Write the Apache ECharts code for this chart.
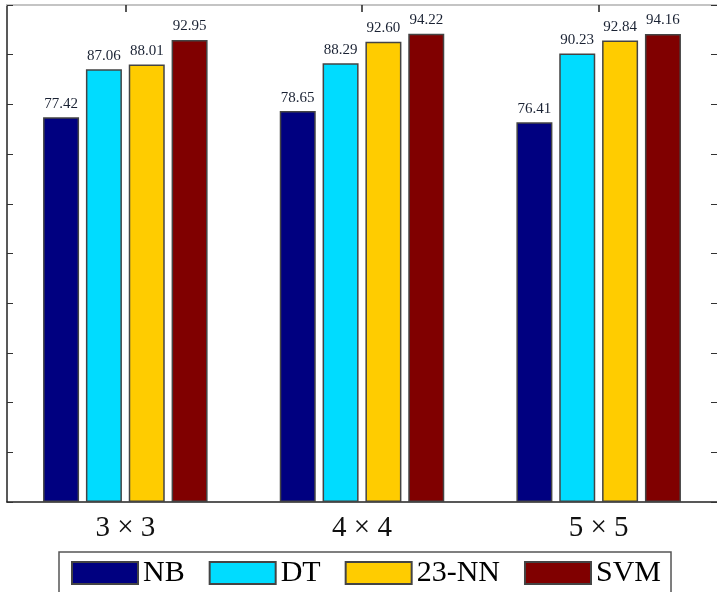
<!DOCTYPE html>
<html lang="en">
<head>
<meta charset="UTF-8">
<title>bars</title>
<script src="https://cdn.jsdelivr.net/npm/echarts@6/dist/echarts.min.js"></script>
<style>
  html, body { margin: 0; padding: 0; background: #fff; }
  #chart { width: 717px; height: 592px; }
</style>
</head>
<body>
<div id="chart"></div>
<script>
var categories = ['3 × 3', '4 × 4', '5 × 5'];
var methods = ['NB', 'DT', '23-NN', 'SVM'];
var nbValues = [77.42, 78.65, 76.41];
var dtValues = [87.06, 88.29, 90.23];
var nnValues = [88.01, 92.60, 92.84];
var svmValues = [92.95, 94.22, 94.16];
var colors = ['#000080', '#00dcff', '#ffcc00', '#800000'];

var serif = '"Liberation Serif", "DejaVu Serif", serif';
var allValues = [nbValues, dtValues, nnValues, svmValues];

var chart = echarts.init(document.getElementById('chart'));

var series = methods.map(function (name, i) {
  return {
    name: name,
    type: 'bar',
    xAxisIndex: 0,
    yAxisIndex: 0,
    data: allValues[i],
    barWidth: 36,
    barGap: '19%',
    itemStyle: { color: colors[i], borderColor: '#444', borderWidth: 1.5 },
    label: {
      show: true,
      position: 'top',
      distance: 6,
      fontFamily: serif,
      fontSize: 15,
      color: '#1a2233',
      formatter: function (p) { return p.value.toFixed(2); }
    }
  };
});

chart.setOption({
  animation: false,
  grid: { left: 7, top: 5, width: 714, bottom: 90 },
  legend: {
    data: methods,
    icon: 'rect',
    left: 59,
    top: 552,
    itemWidth: 66,
    itemHeight: 22,
    itemGap: 24,
    padding: [6, 10, 6, 12],
    borderColor: '#555',
    borderWidth: 1.5,
    textStyle: { fontFamily: serif, fontSize: 30, color: '#000' }
  },
  xAxis: [
    {
      type: 'category',
      data: categories,
      position: 'bottom',
      axisLine: { show: true, lineStyle: { color: '#222', width: 1.5 } },
      axisTick: { show: false },
      axisLabel: { fontFamily: serif, fontSize: 29, color: '#111', margin: 12 }
    },
    {
      type: 'category',
      data: categories,
      position: 'top',
      axisLine: { show: true, onZero: false, lineStyle: { color: '#c4c4c4', width: 2 } },
      axisTick: { show: true, inside: true, alignWithLabel: true, length: 7, lineStyle: { color: '#222', width: 1.5 } },
      axisLabel: { show: false },
      splitLine: { show: false }
    }
  ],
  yAxis: [
    {
      type: 'value',
      min: 0, max: 100, interval: 10,
      position: 'left',
      axisLine: { show: true, lineStyle: { color: '#222', width: 1.5 } },
      axisTick: { show: true, inside: true, length: 6, lineStyle: { color: '#333' } },
      axisLabel: { show: false },
      splitLine: { show: false }
    },
    {
      type: 'value',
      min: 0, max: 100, interval: 10,
      position: 'right',
      axisLine: { show: true, lineStyle: { color: '#333' } },
      axisTick: { show: true, inside: true, length: 6, lineStyle: { color: '#333' } },
      axisLabel: { show: false },
      splitLine: { show: false }
    }
  ],
  series: series
});
</script>
</body>
</html>
